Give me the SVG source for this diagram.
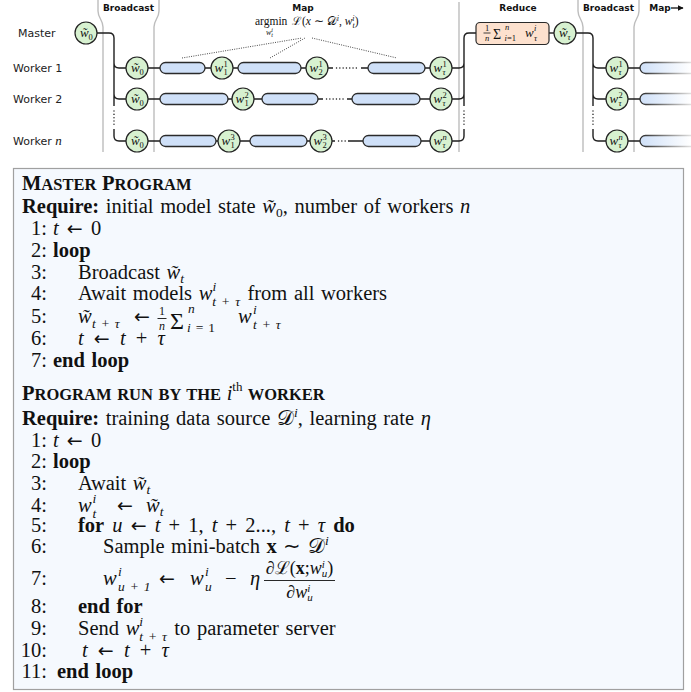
<svg xmlns="http://www.w3.org/2000/svg" width="691" height="692" viewBox="0 0 691 692">
<defs>
<style>
.lbl{font-family:"DejaVu Sans",sans-serif;font-size:11px;fill:#222}
.hdr{font-family:"DejaVu Sans",sans-serif;font-size:9px;font-weight:bold;fill:#111;text-anchor:middle}
.sep{fill:none;stroke:#bdbdbd;stroke-width:1.4}
.c{fill:none;stroke:#1e1e1e;stroke-width:1.4}
.dot{fill:none;stroke:#1e1e1e;stroke-width:1.4;stroke-dasharray:0.1 3.2;stroke-linecap:round}
.fan{fill:none;stroke:#333;stroke-width:0.9;stroke-dasharray:1 1.3}
.node{fill:#d7f1d0;stroke:#222;stroke-width:1.2}
.bar{fill:#cfe0f8;stroke:#2a2a2a;stroke-width:1.3}
.fbar{fill:url(#fadeF);stroke:url(#fadeS);stroke-width:1.3}
.red{fill:#fde1ce;stroke:#2a2a2a;stroke-width:1.2}
.nm{font-family:"Liberation Serif",serif;font-style:italic;font-size:13px;fill:#111}
.ns{font-size:8.5px}
.up{font-style:normal}
.r{font-family:"Liberation Serif",serif;fill:#111}
.a{font-family:"Liberation Serif",serif;font-size:20.5px;fill:#111;word-spacing:1.5px}
.i{font-style:italic}
.bd{font-weight:bold}
.sc{font-size:13.5px;word-spacing:0}
.tt{letter-spacing:0.8px}
.ar{font-family:"DejaVu Sans",sans-serif;font-size:19px;font-style:normal;font-weight:normal}
.num{text-anchor:end}
.fl{stroke:#111;stroke-width:0.9}
.box{fill:#f5f9fe;stroke:#a0a0a0;stroke-width:1.2}
</style>
<linearGradient id="fadeF" gradientUnits="userSpaceOnUse" x1="640" y1="0" x2="691" y2="0"><stop offset="0" stop-color="#cfe0f8"/><stop offset="1" stop-color="#ffffff"/></linearGradient>
<linearGradient id="fadeS" gradientUnits="userSpaceOnUse" x1="640" y1="0" x2="691" y2="0"><stop offset="0" stop-color="#2a2a2a"/><stop offset="1" stop-color="#e0e0e0"/></linearGradient>
<marker id="ah" viewBox="0 0 10 10" refX="9" refY="5" markerWidth="6" markerHeight="6" orient="auto" markerUnits="userSpaceOnUse"><path d="M0,0 L10,5 L0,10 z" fill="#111"/></marker>
</defs>
<rect width="691" height="692" fill="#fff"/>

<g id="phases">
<path class="sep" d="M98,0 V11 C98,18 103,20 103,27 V152"/>
<path class="sep" d="M159,0 V11 C159,18 154,20 154,27 V152"/>
<path class="sep" d="M459,2 V152"/>
<path class="sep" d="M578,0 V11 C578,18 583,20 583,27 V152"/>
<path class="sep" d="M639,0 V11 C639,18 634,20 634,27 V152"/>
<text class="hdr" x="128.5" y="11">Broadcast</text>
<text class="hdr" x="303" y="11">Map</text>
<text class="hdr" x="518" y="11">Reduce</text>
<text class="hdr" x="608.5" y="11">Broadcast</text>
<text class="hdr" x="660" y="11">Map</text>
<path d="M671,8 H683" stroke="#111" stroke-width="1.3" marker-end="url(#ah)"/>
</g>

<g id="row-labels">
<text class="lbl" x="18" y="37">Master</text>
<text class="lbl" x="13" y="72">Worker 1</text>
<text class="lbl" x="13" y="103">Worker 2</text>
<text class="lbl" x="13" y="145">Worker <tspan class="r i" style="font-size:13px">n</tspan></text>
</g>

<g id="map-formula">
<text class="r" font-size="11.5" x="255" y="25">argmin</text>
<text class="r i" font-size="8" x="266" y="35">w<tspan font-size="6" dy="-3">i</tspan><tspan font-size="6" dx="-1.7" dy="5">t</tspan></text>
<text class="r" font-size="11.5" x="292" y="25">ℒ(<tspan class="i">x</tspan> ∼ 𝒟<tspan font-size="8" dy="-4" class="i">i</tspan><tspan dy="4">, </tspan><tspan class="i">w</tspan><tspan class="i" font-size="8" dy="-4">i</tspan><tspan class="i" font-size="8" dx="-2.2" dy="7">t</tspan><tspan dy="-3">)</tspan></text>
</g>

<g id="connectors">
<path class="fan" d="M182,58 L302,38 M270,58 L305,38 M312,38 L397,58"/>
<path class="c" d="M97,33 H109 Q114,33 114,38 V63 Q114,68 119,68 H126 M114,63 V94 Q114,99 119,99 H126 M114,94 V106 M114,129 V136 Q114,141 119,141 H126"/>
<path class="dot" d="M114,111 V126"/>
<path class="c" d="M148,68 H160 M205,68 H211 M233,68 H238 M301,68 H306 M328,68 H333 M361,68 H368 M425,68 H430"/>
<path class="dot" d="M336.5,68 H359"/>
<path class="c" d="M148,99 H160 M228,99 H232 M254,99 H262 M318,99 H323 M347,99 H352 M420,99 H430"/>
<path class="dot" d="M326.5,99 H345"/>
<path class="c" d="M148,141 H160 M216,141 H218 M240,141 H250 M307,141 H310 M332,141 H335 M348,141 H363 M421,141 H430"/>
<path class="dot" d="M338.5,141 H346"/>
<path class="c" d="M452,68 H459 Q464,68 464,63 V38 Q464,33 469,33 H476 M452,99 H459 Q464,99 464,94 V63 M464,94 V106 M452,141 H459 Q464,141 464,136 V129"/>
<path class="dot" d="M464,111 V126"/>
<path class="c" d="M549,33 H554"/>
<path class="c" d="M576,33 H588 Q593,33 593,38 V63 Q593,68 598,68 H606 M593,63 V94 Q593,99 598,99 H606 M593,94 V106 M593,129 V136 Q593,141 598,141 H606"/>
<path class="dot" d="M593,111 V126"/>
<path class="c" d="M628,68 H640 M628,99 H640 M628,141 H640"/>
</g>

<g id="bars">
<rect class="bar" x="160" y="62.5" width="45" height="11" rx="5.5"/>
<rect class="bar" x="238" y="62.5" width="63" height="11" rx="5.5"/>
<rect class="bar" x="368" y="62.5" width="57" height="11" rx="5.5"/>
<rect class="bar" x="160" y="93.5" width="68" height="11" rx="5.5"/>
<rect class="bar" x="262" y="93.5" width="56" height="11" rx="5.5"/>
<rect class="bar" x="352" y="93.5" width="68" height="11" rx="5.5"/>
<rect class="bar" x="160" y="135.5" width="56" height="11" rx="5.5"/>
<rect class="bar" x="250" y="135.5" width="57" height="11" rx="5.5"/>
<rect class="bar" x="363" y="135.5" width="58" height="11" rx="5.5"/>
<rect class="fbar" x="640" y="62.5" width="60" height="11" rx="5.5"/>
<rect class="fbar" x="640" y="93.5" width="60" height="11" rx="5.5"/>
<rect class="fbar" x="640" y="135.5" width="60" height="11" rx="5.5"/>
</g>

<g id="n-master"><circle class="node" cx="86" cy="33" r="11"/><text class="nm"><tspan x="80" y="37">w̃</tspan><tspan class="ns up" x="88.5" y="39.5">0</tspan></text></g>
<g id="n-b1"><circle class="node" cx="137" cy="68" r="11"/><text class="nm"><tspan x="131" y="72">w̃</tspan><tspan class="ns up" x="139.5" y="74.5">0</tspan></text></g>
<g id="n-b2"><circle class="node" cx="137" cy="99" r="11"/><text class="nm"><tspan x="131" y="103">w̃</tspan><tspan class="ns up" x="139.5" y="105.5">0</tspan></text></g>
<g id="n-bn"><circle class="node" cx="137" cy="141" r="11"/><text class="nm"><tspan x="131" y="145">w̃</tspan><tspan class="ns up" x="139.5" y="147.5">0</tspan></text></g>

<g id="n-w11"><circle class="node" cx="222" cy="68" r="11"/><text class="nm"><tspan x="214.5" y="71.5">w</tspan><tspan class="ns up" x="223.5" y="66.5">1</tspan><tspan class="ns up" x="223.5" y="75">1</tspan></text></g>
<g id="n-w21"><circle class="node" cx="317" cy="68" r="11"/><text class="nm"><tspan x="309.5" y="71.5">w</tspan><tspan class="ns up" x="318.5" y="66.5">1</tspan><tspan class="ns up" x="318.5" y="75">2</tspan></text></g>
<g id="n-wt1"><circle class="node" cx="441" cy="68" r="11"/><text class="nm"><tspan x="433.5" y="71.5">w</tspan><tspan class="ns up" x="442.5" y="66.5">1</tspan><tspan class="ns" x="442.5" y="75">τ</tspan></text></g>

<g id="n-w12"><circle class="node" cx="243" cy="99" r="11"/><text class="nm"><tspan x="235.5" y="102.5">w</tspan><tspan class="ns up" x="244.5" y="97.5">2</tspan><tspan class="ns up" x="244.5" y="106">1</tspan></text></g>
<g id="n-wt2"><circle class="node" cx="441" cy="99" r="11"/><text class="nm"><tspan x="433.5" y="102.5">w</tspan><tspan class="ns up" x="442.5" y="97.5">2</tspan><tspan class="ns" x="442.5" y="106">τ</tspan></text></g>

<g id="n-w13"><circle class="node" cx="229" cy="141" r="11"/><text class="nm"><tspan x="221.5" y="144.5">w</tspan><tspan class="ns up" x="230.5" y="139.5">3</tspan><tspan class="ns up" x="230.5" y="148">1</tspan></text></g>
<g id="n-w23"><circle class="node" cx="321" cy="141" r="11"/><text class="nm"><tspan x="313.5" y="144.5">w</tspan><tspan class="ns up" x="322.5" y="139.5">3</tspan><tspan class="ns up" x="322.5" y="148">2</tspan></text></g>
<g id="n-wtn"><circle class="node" cx="441" cy="141" r="11"/><text class="nm"><tspan x="433.5" y="144.5">w</tspan><tspan class="ns" x="442.5" y="139.5">n</tspan><tspan class="ns" x="442.5" y="148">τ</tspan></text></g>

<g id="n-reduce"><rect class="red" x="476" y="22.5" width="73" height="22" rx="4"/>
<text class="r" font-size="8.5" x="487" y="30.5" text-anchor="middle">1</text>
<path d="M483.5,33 H490.5" stroke="#111" stroke-width="0.8"/>
<text class="r i" font-size="8.5" x="487" y="40.5" text-anchor="middle">n</text>
<text class="r" font-size="14" x="493" y="38.5">Σ</text>
<text class="r i" font-size="8.5" x="505" y="29.5">n</text>
<text class="r" font-size="8.5" x="504.5" y="41"><tspan class="i">i</tspan>=1</text>
<text class="r i" font-size="13" x="525" y="37">w</text>
<text class="r i" font-size="8.5" x="534" y="31">i</text>
<text class="r i" font-size="8.5" x="534" y="40.5">τ</text>
</g>
<g id="n-wtau"><circle class="node" cx="565" cy="33" r="11"/><text class="nm"><tspan x="559" y="37">w̃</tspan><tspan class="ns" x="567.5" y="39.5">τ</tspan></text></g>

<g id="n-r1"><circle class="node" cx="617" cy="68" r="11"/><text class="nm"><tspan x="609.5" y="71.5">w</tspan><tspan class="ns up" x="618.5" y="66.5">1</tspan><tspan class="ns" x="618.5" y="75">τ</tspan></text></g>
<g id="n-r2"><circle class="node" cx="617" cy="99" r="11"/><text class="nm"><tspan x="609.5" y="102.5">w</tspan><tspan class="ns up" x="618.5" y="97.5">2</tspan><tspan class="ns" x="618.5" y="106">τ</tspan></text></g>
<g id="n-rn"><circle class="node" cx="617" cy="141" r="11"/><text class="nm"><tspan x="609.5" y="144.5">w</tspan><tspan class="ns" x="618.5" y="139.5">n</tspan><tspan class="ns" x="618.5" y="148">τ</tspan></text></g>

<g id="algorithm">
<rect class="box" x="13.5" y="168.5" width="670" height="521"/>

<text class="a bd" x="22" y="190"><tspan font-size="20.5">M</tspan><tspan font-size="16.5">ASTER </tspan><tspan font-size="20.5">P</tspan><tspan font-size="16.5">ROGRAM</tspan></text>
<text class="a" x="22" y="213"><tspan class="bd">Require:</tspan> initial model state <tspan class="i">w̃</tspan><tspan class="sc" dy="4">0</tspan><tspan dy="-4">, number of workers </tspan><tspan class="i">n</tspan></text>
<text class="a num" x="47" y="235">1:</text><text class="a" x="53" y="235" style="word-spacing:3px"><tspan class="i">t</tspan> <tspan class="ar">←</tspan> 0</text>
<text class="a num" x="47" y="257">2:</text><text class="a bd" x="53" y="257">loop</text>
<text class="a num" x="47" y="279">3:</text><text class="a" x="78" y="279">Broadcast <tspan class="i">w̃</tspan><tspan class="sc i" dy="4">t</tspan></text>
<text class="a num" x="47" y="300">4:</text><text class="a" x="78" y="300">Await models <tspan class="i">w</tspan><tspan class="sc i" dy="-9">i</tspan><tspan class="sc i tt" dx="-3.8" dy="15">t + τ</tspan><tspan dy="-6"> from all workers</tspan></text>
<text class="a num" x="47" y="323">5:</text>
<text class="a i" x="78" y="323">w̃</text>
<text class="a i sc tt" x="92" y="328">t + τ</text>
<text class="a ar" x="134" y="323">←</text>
<text class="a" style="font-size:12px" x="162" y="315" text-anchor="middle">1</text>
<path class="fl" d="M157.5,318.5 H166.5"/>
<text class="a i" style="font-size:12px" x="162" y="330" text-anchor="middle">n</text>
<text class="a" style="font-size:24px" x="170" y="329">Σ</text>
<text class="a i sc" x="188" y="313">n</text>
<text class="a sc tt" x="187" y="332"><tspan class="i">i</tspan> = 1</text>
<text class="a i" x="238" y="323">w</text>
<text class="a i sc" x="253" y="314">i</text>
<text class="a i sc tt" x="253" y="329">t + τ</text>
<text class="a num" x="47" y="345">6:</text><text class="a" x="78" y="345" style="word-spacing:5px"><tspan class="i">t</tspan> <tspan class="ar">←</tspan> <tspan class="i">t</tspan> + <tspan class="i">τ</tspan></text>
<text class="a num" x="47" y="367">7:</text><text class="a bd" x="53" y="367">end loop</text>

<text class="a bd" x="22" y="400"><tspan font-size="20.5">P</tspan><tspan font-size="16.5">ROGRAM RUN BY THE </tspan><tspan class="i" font-size="20.5" font-weight="normal">i</tspan><tspan font-size="13" font-weight="normal" dy="-9">th</tspan><tspan font-size="16.5" dy="9"> WORKER</tspan></text>
<text class="a" x="22" y="425"><tspan class="bd">Require:</tspan> training data source 𝒟<tspan class="sc i" dy="-8">i</tspan><tspan dy="8">, learning rate </tspan><tspan class="i">η</tspan></text>
<text class="a num" x="47" y="447">1:</text><text class="a" x="53" y="447" style="word-spacing:3px"><tspan class="i">t</tspan> <tspan class="ar">←</tspan> 0</text>
<text class="a num" x="47" y="468">2:</text><text class="a bd" x="53" y="468">loop</text>
<text class="a num" x="47" y="490">3:</text><text class="a" x="78" y="490">Await <tspan class="i">w̃</tspan><tspan class="sc i" dy="4">t</tspan></text>
<text class="a num" x="47" y="512">4:</text>
<text class="a i" x="78" y="512">w</text>
<text class="a i sc" x="92.5" y="503">i</text>
<text class="a i sc" x="92.5" y="518">t</text>
<text class="a ar" x="117" y="512">←</text>
<text class="a" x="146" y="512"><tspan class="i">w̃</tspan><tspan class="sc i" dy="4">t</tspan></text>
<text class="a num" x="47" y="532">5:</text><text class="a" x="78" y="532" style="word-spacing:3px"><tspan class="bd">for</tspan> <tspan class="i">u</tspan> <tspan class="ar">←</tspan> <tspan class="i">t</tspan> + 1, <tspan class="i">t</tspan> + 2..., <tspan class="i">t</tspan> + <tspan class="i">τ</tspan> <tspan class="bd">do</tspan></text>
<text class="a num" x="47" y="553">6:</text><text class="a" x="103" y="553">Sample mini-batch <tspan class="bd">x</tspan> ∼ 𝒟<tspan class="sc i" dy="-8">i</tspan></text>
<text class="a num" x="47" y="585">7:</text>
<text class="a i" x="103" y="585">w</text>
<text class="a i sc" x="118" y="576">i</text>
<text class="a i sc tt" x="118" y="591">u + 1</text>
<text class="a ar" x="159" y="585">←</text>
<text class="a i" x="190" y="585">w</text>
<text class="a i sc" x="205" y="576">i</text>
<text class="a i sc" x="205" y="591">u</text>
<text class="a" x="225" y="585">−</text>
<text class="a i" x="250" y="585">η</text>
<path class="fl" d="M264,580.5 H335"/>
<text class="a" style="font-size:18px;word-spacing:0" x="299.5" y="574" text-anchor="middle">∂ℒ(<tspan class="bd">x</tspan>;<tspan class="i">w</tspan><tspan class="i" font-size="11" dy="-6">i</tspan><tspan class="i" font-size="11" dx="-3" dy="9">u</tspan><tspan dy="-3">)</tspan></text>
<text class="a" style="font-size:18px;word-spacing:0" x="299.5" y="598" text-anchor="middle">∂<tspan class="i">w</tspan><tspan class="i" font-size="11" dy="-6">i</tspan><tspan class="i" font-size="11" dx="-3" dy="9">u</tspan></text>
<text class="a num" x="47" y="613">8:</text><text class="a bd" x="78" y="613">end for</text>
<text class="a num" x="47" y="635">9:</text><text class="a" x="78" y="635">Send <tspan class="i">w</tspan><tspan class="sc i" dy="-9">i</tspan><tspan class="sc i tt" dx="-3.8" dy="15">t + τ</tspan><tspan dy="-6"> to parameter server</tspan></text>
<text class="a num" x="47" y="657">10:</text><text class="a" x="82" y="657" style="word-spacing:5px"><tspan class="i">t</tspan> <tspan class="ar">←</tspan> <tspan class="i">t</tspan> + <tspan class="i">τ</tspan></text>
<text class="a num" x="47" y="678">11:</text><text class="a bd" x="57" y="678">end loop</text>
</g>
</svg>
